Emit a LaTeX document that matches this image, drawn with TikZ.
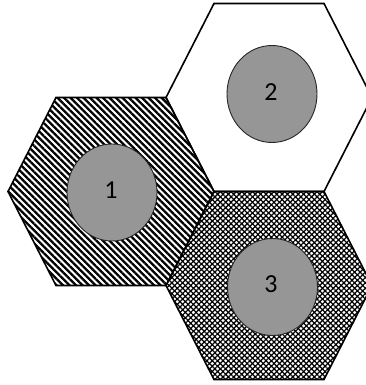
\documentclass[tikz,border=0pt]{standalone}
\usepackage{fontspec}
\setmainfont{Carlito}
\usetikzlibrary{patterns.meta,shapes.geometric}
\definecolor{discgray}{RGB}{150,150,150}
\tikzset{
  hexa/.pic={\path[pic actions] (-103,0) -- (-55,-94) -- (55,-94) -- (103,0) -- (55,94) -- (-55,94) -- cycle;},
  hexline/.style={draw=black,line width=1.6pt,line join=miter},
  disc/.style={ellipse,draw=black!85,line width=0.9pt,fill=discgray,minimum width=90pt,minimum height=97pt,inner sep=0pt},
  numtext/.style={font=\fontsize{26pt}{26pt}\selectfont},
  stripes/.style={pattern={Lines[angle=-45,distance=4.6pt,line width=2.3pt]}},
  cross/.style={pattern={Lines[angle=45,distance=3.8pt,line width=1.25pt]}},
  crossb/.style={pattern={Lines[angle=-45,distance=3.8pt,line width=1.25pt]}}
}
\begin{document}
\begin{tikzpicture}[x=1pt,y=-1pt]
\useasboundingbox (0,0) rectangle (366,385);
\clip (0,0) rectangle (366,385);
% hexagon 1 (stripes)
\pic[fill=white] at (111,191.5) {hexa};
\pic[stripes] at (111,191.5) {hexa};
% hexagon 2 (white)
\pic[fill=white] at (269,97.5) {hexa};
% hexagon 3 (cross hatch)
\pic[fill=white] at (269,285.5) {hexa};
\pic[cross] at (269,285.5) {hexa};
\pic[crossb] at (269,285.5) {hexa};
% outlines
\pic[hexline] at (111,191.5) {hexa};
\pic[hexline] at (269,97.5) {hexa};
\pic[hexline] at (269,285.5) {hexa};
% discs
\node[disc] (c1) at (112,192.5) {};
\node[disc] (c2) at (272,94) {};
\node[disc] (c3) at (272.5,287) {};
\node[numtext] (t1) at (111,190.5) {1};
\node[numtext] (t2) at (271,92) {2};
\node[numtext] (t3) at (271,284.5) {3};
\end{tikzpicture}
\end{document}
